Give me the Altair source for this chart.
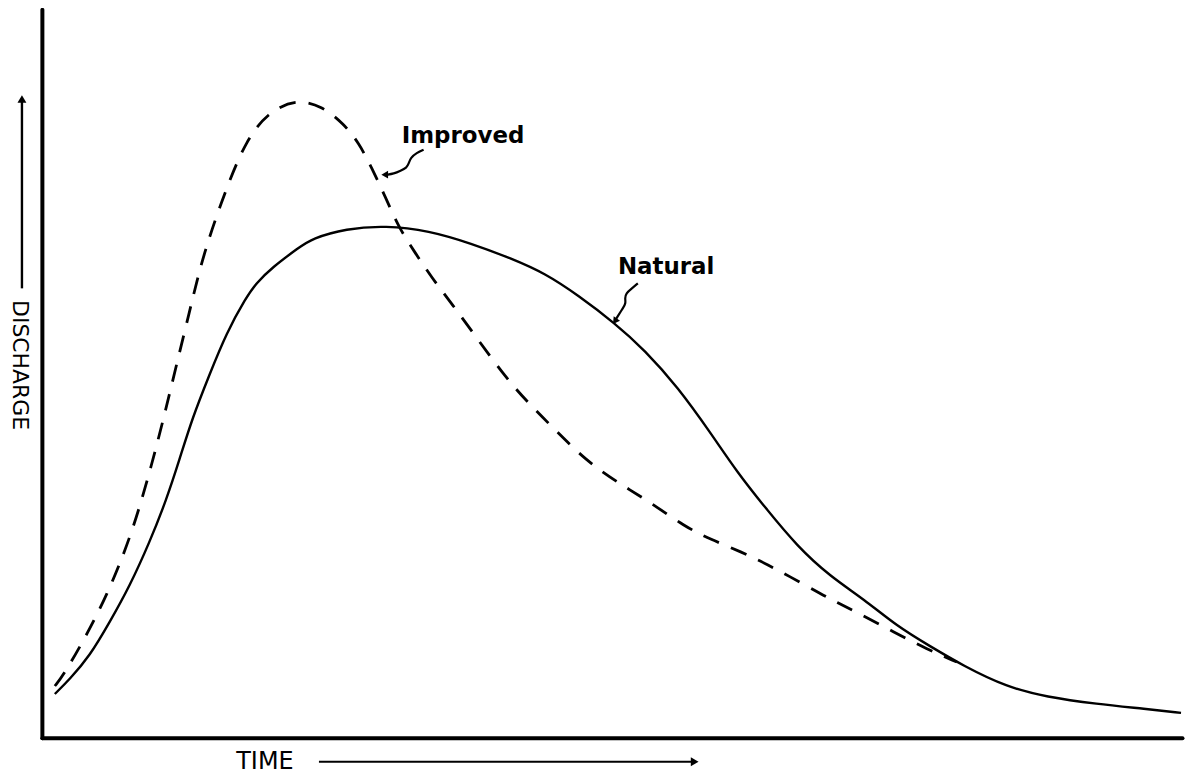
import altair as alt
import pandas as pd

# Natural hydrograph (time, discharge) in arbitrary units
nat_t = [13, 28, 48, 68, 88, 108, 125, 138, 151, 168, 185, 205, 215, 231, 258, 271, 305, 345, 388,
         431, 471, 505, 538, 575, 605, 638, 671, 698, 725, 758, 791, 825, 858, 891, 925, 968,
         1008, 1058, 1108, 1143]
nat_q = [44, 59, 82, 116, 152, 196, 239, 279, 321, 364, 406, 442, 456, 472, 492, 501, 511, 514, 509,
         496, 481, 466, 444, 416, 389, 352, 306, 266, 232, 192, 162, 139, 112, 92, 72, 51,
         41, 34, 29, 25]

# Improved hydrograph
imp_t = [13, 21, 41, 65, 91, 111, 123, 135, 148, 158, 170, 188, 205, 226, 255, 281, 303, 318, 331,
         345, 358, 375, 391, 411, 438, 465, 488, 515, 545, 578, 611, 645, 671, 701, 728, 761,
         791, 818, 855, 888, 918]
imp_q = [52, 62, 96, 142, 206, 277, 324, 374, 427, 469, 509, 559, 599, 627, 641, 634, 616, 597, 572,
         542, 512, 486, 462, 436, 399, 362, 336, 309, 279, 256, 236, 212, 199, 187, 174, 156,
         139, 126, 106, 89, 76]

# Curly leader lines for the labels
imp_arrow_t = [383, 376, 370, 368, 366, 360, 353, 346]
imp_arrow_q = [590, 587, 582, 576, 572, 569, 566, 565]
nat_arrow_t = [598, 592, 586, 585, 586, 583, 579, 576]
nat_arrow_q = [456, 451, 446, 441, 436, 431, 425, 420]

labels = ["Improved", "Natural"]
label_t = [361, 578]
label_q = [604, 472]

XD = [0, 1144]
YD = [0, 731]

xs = alt.Scale(domain=XD, nice=False, zero=False)
ys = alt.Scale(domain=YD, nice=False, zero=False)

ax_x = alt.Axis(labels=False, ticks=False, grid=False, title=None, domainColor="black",
                domainWidth=4, domainCap="round")
ax_y = alt.Axis(labels=False, ticks=False, grid=False, title=None, domainColor="black",
                domainWidth=4, domainCap="round")

nat_df = pd.DataFrame({"t": nat_t, "q": nat_q})
imp_df = pd.DataFrame({"t": imp_t, "q": imp_q})

natural = alt.Chart(nat_df).mark_line(color="black", strokeWidth=2.4, interpolate="basis").encode(
    x=alt.X("t:Q", scale=xs, axis=ax_x),
    y=alt.Y("q:Q", scale=ys, axis=ax_y),
)
improved = alt.Chart(imp_df).mark_line(color="black", strokeWidth=2.8, strokeDash=[17, 13],
                                        interpolate="basis").encode(
    x=alt.X("t:Q", scale=xs),
    y=alt.Y("q:Q", scale=ys),
)

ia_df = pd.DataFrame({"t": imp_arrow_t, "q": imp_arrow_q, "o": list(range(len(imp_arrow_t)))})
na_df = pd.DataFrame({"t": nat_arrow_t, "q": nat_arrow_q, "o": list(range(len(nat_arrow_t)))})

imp_arrow = alt.Chart(ia_df).mark_line(color="black", strokeWidth=2.2, interpolate="basis").encode(
    x=alt.X("t:Q", scale=xs), y=alt.Y("q:Q", scale=ys), order="o:Q")
nat_arrow = alt.Chart(na_df).mark_line(color="black", strokeWidth=2.2, interpolate="basis").encode(
    x=alt.X("t:Q", scale=xs), y=alt.Y("q:Q", scale=ys), order="o:Q")

heads_df = pd.DataFrame({"t": [imp_arrow_t[-1] - 2, nat_arrow_t[-1] - 1],
                         "q": [imp_arrow_q[-1], nat_arrow_q[-1] - 2],
                         "a": [270, 215]})
heads = alt.Chart(heads_df).mark_point(shape="triangle-up", filled=True, color="black", size=60,
                                       opacity=1).encode(
    x=alt.X("t:Q", scale=xs), y=alt.Y("q:Q", scale=ys), angle=alt.Angle("a:Q", scale=None))

lab_df = pd.DataFrame({"t": label_t, "q": label_q, "label": labels})
lab = alt.Chart(lab_df).mark_text(align="left", baseline="middle", font="DejaVu Sans",
                                   fontWeight="bold", fontSize=23, color="black").encode(
    x=alt.X("t:Q", scale=xs), y=alt.Y("q:Q", scale=ys), text="label:N")

# Axis titles with arrows
ttl_df = pd.DataFrame({"t": [195], "q": [-24], "label": ["TIME"]})
time_title = alt.Chart(ttl_df).mark_text(align="left", baseline="middle", font="DejaVu Sans",
                                          fontSize=24, color="black").encode(
    x=alt.X("t:Q", scale=xs), y=alt.Y("q:Q", scale=ys), text="label:N")
time_line_df = pd.DataFrame({"t": [278, 652], "q": [-24, -24]})
time_line = alt.Chart(time_line_df).mark_line(color="black", strokeWidth=2.2).encode(
    x=alt.X("t:Q", scale=xs), y=alt.Y("q:Q", scale=ys))
time_head = alt.Chart(pd.DataFrame({"t": [655], "q": [-24]})).mark_point(
    shape="triangle-right", filled=True, color="black", size=80, opacity=1).encode(
    x=alt.X("t:Q", scale=xs), y=alt.Y("q:Q", scale=ys))

dis_df = pd.DataFrame({"t": [-22], "q": [374], "label": ["DISCHARGE"]})
dis_title = alt.Chart(dis_df).mark_text(align="center", baseline="middle", font="DejaVu Sans",
                                         fontSize=22, angle=90, color="black").encode(
    x=alt.X("t:Q", scale=xs), y=alt.Y("q:Q", scale=ys), text="label:N")
dis_line_df = pd.DataFrame({"t": [-20, -20], "q": [451, 638]})
dis_line = alt.Chart(dis_line_df).mark_line(color="black", strokeWidth=2.4).encode(
    x=alt.X("t:Q", scale=xs), y=alt.Y("q:Q", scale=ys))
dis_head = alt.Chart(pd.DataFrame({"t": [-20], "q": [641]})).mark_point(
    shape="triangle-up", filled=True, color="black", size=80, opacity=1).encode(
    x=alt.X("t:Q", scale=xs), y=alt.Y("q:Q", scale=ys))

chart = alt.layer(natural, improved, imp_arrow, nat_arrow, heads, lab,
                  time_title, time_line, time_head, dis_title, dis_line, dis_head).properties(
    width=1144, height=731,
    autosize=alt.AutoSizeParams(type="none"),
    padding={"left": 34, "top": 0, "right": 6, "bottom": 36},
).configure(background="white").configure_view(stroke=None, strokeWidth=0)

chart.save("out.html", embed_options={"renderer": "svg", "actions": False})
